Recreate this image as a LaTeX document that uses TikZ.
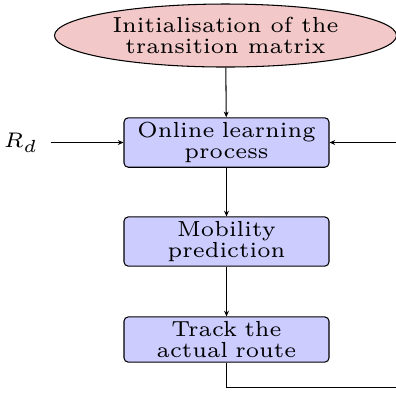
\documentclass[tikz,border=0pt]{standalone}
\usetikzlibrary{shapes.geometric,arrows.meta}

\definecolor{initpink}{RGB}{242,200,200}
\newcommand{\flowfont}{\fontsize{6.2}{5.9}\selectfont}
\tikzset{
  initnode/.style={ellipse,draw,line width=0.3pt,fill=initpink,font=\flowfont,align=center,
    minimum width=3.42cm,minimum height=0.63cm,inner sep=0pt},
  procbox/.style={rectangle,rounded corners=1.2pt,draw,line width=0.3pt,fill=blue!20,
    font=\flowfont,align=center,text width=1.85cm,minimum width=2.05cm,inner sep=1.3pt},
  flow/.style={line width=0.3pt,-{Stealth[length=1.6pt,width=1.4pt]}}
}

\begin{document}
\begin{tikzpicture}
\useasboundingbox (0,0) rectangle (3.96,-3.94);
\clip (0,0) rectangle (3.96,-3.94);
\node[initnode](init) at (2.255,-0.355){Initialisation of the\\transition matrix};
\node[procbox](online) at (2.265,-1.425){Online learning\\process};
\node[procbox](mobility) at (2.265,-2.415){Mobility\\prediction};
\node[procbox](track) at (2.265,-3.395){Track the\\actual route};
\node[font=\flowfont](rd) at (0.21,-1.425){$R_d$};
\coordinate (loop) at (4.2,-3.875);
\draw[flow](init)--(online);
\draw[flow](online)--(mobility);
\draw[flow](mobility)--(track);
\draw[flow](rd)--(online);
\draw[flow](track.south)|-(loop)|-(online.east);
\end{tikzpicture}
\end{document}
